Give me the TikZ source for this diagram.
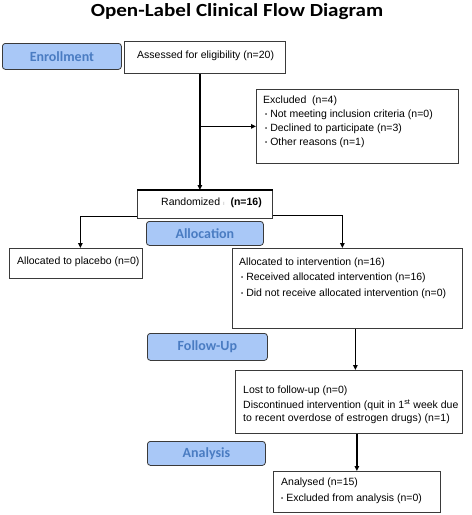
\documentclass[tikz,border=0pt]{standalone}
\usepackage{fontspec}
\setmainfont{Liberation Sans}
\newfontfamily\calfont{Carlito}
\newfontfamily\calwide[FakeStretch=1.14]{Carlito}
\usetikzlibrary{arrows.meta,calc}
\definecolor{pillfill}{HTML}{A9C8F7}
\definecolor{pilltext}{HTML}{4A7CC2}
\definecolor{boxline}{HTML}{3A3A3A}
\tikzset{
  x=1pt,y=-1pt,
  box/.style={draw=boxline,line width=0.8pt,fill=white,anchor=north west,inner sep=0pt},
  pill/.style={draw=boxline,line width=0.8pt,fill=pillfill,rounded corners=3pt,anchor=north west,inner sep=0pt,
    font=\calfont\bfseries\fontsize{14}{16}\selectfont,text=pilltext},
  txt/.style={anchor=west,inner sep=0pt,font=\fontsize{10.5}{12}\selectfont},
  arr/.style={line width=1.3pt,-{Triangle[length=5pt,width=4.5pt]}},
}
\newcommand{\bul}{{\fontsize{6}{6}\selectfont\raisebox{0.9pt}{\textbullet}}\hspace{3pt}}
\begin{document}
\begin{tikzpicture}
\useasboundingbox (0,0) rectangle (472,515);
\node[font=\calwide\bfseries\fontsize{18.5}{20}\selectfont] (title) at (237,12) {Open-Label Clinical Flow Diagram};
% enrollment
\node[pill,minimum width=119,minimum height=26] (enr) at (2,43) {Enrollment};
\node[box,minimum width=161,minimum height=32] (assess) at (124,41) {};
\node[txt] (assesst) at (137,56) {Assessed for eligibility (n=20)};
% excluded
\node[box,minimum width=202,minimum height=74] (excl) at (256,89) {};
\node[txt] (ex0) at (263,101) {Excluded\ \ (n=4)};
\node[txt] (ex1) at (265,115) {\bul Not meeting inclusion criteria (n=0)};
\node[txt] (ex2) at (265,129) {\bul Declined to participate (n=3)};
\node[txt] (ex3) at (265,143) {\bul Other reasons (n=1)};
% randomized
\node[box,minimum width=135,minimum height=28] (rand) at (137,190) {};
\draw[line width=1.4pt] (rand.north west) -- (rand.north east);
\node[txt] (randt) at (161,203) {Randomized {\color{gray!60}\fontsize{6}{6}\selectfont ı}\ \ \textbf{(n=16)}};
\node[pill,minimum width=117,minimum height=24] (alloc) at (146,221) {Allocation};
% placebo
\node[box,minimum width=133,minimum height=30] (plac) at (9,248) {};
\node[txt] (plact) at (17,262) {Allocated to placebo (n=0)};
% intervention
\node[box,minimum width=230,minimum height=80] (interv) at (232,248) {};
\node[txt] (iv0) at (239,263) {Allocated to intervention (n=16)};
\node[txt] (iv1) at (241,278) {\bul Received allocated intervention (n=16)};
\node[txt] (iv2) at (241,294) {\bul Did not receive allocated intervention (n=0)};
% follow-up
\node[pill,minimum width=120,minimum height=27] (fu) at (147,333) {Follow-Up};
\node[box,minimum width=227,minimum height=63] (lost) at (235,370) {};
\node[txt] (l0) at (243,391) {Lost to follow-up (n=0)};
\node[txt] (l1) at (243,405) {Discontinued intervention (quit in 1\textsuperscript{st} week due};
\node[txt] (l2) at (243,419) {\addfontfeature{LetterSpace=1}to recent overdose of estrogen drugs) (n=1)};
% analysis
\node[pill,minimum width=118,minimum height=24] (an) at (147,441) {Analysis};
\node[box,minimum width=167,minimum height=41] (anl) at (273,471) {};
\node[txt] (a0) at (281,483) {Analysed (n=15)};
\node[txt] (a1) at (281,499) {\bul Excluded from analysis (n=0)};
% connectors
\coordinate (c1) at ($(assess.south)+(-5,0)$);
\draw[arr] (c1) -- (c1 |- rand.north);
\draw[arr] (c1 |- excl.west) -- (excl.west);
\coordinate (rl) at ($(rand.south west)+(0,-2)$);
\coordinate (rr) at ($(rand.south east)+(0,-3)$);
\draw[arr] (rl) -| ($(plac.north)+(4.5,0)$);
\draw[arr] (rr) -| ($(interv.north)+(-5,0)$);
\coordinate (c2) at ($(lost.north)+(6.5,0)$);
\draw[arr] (c2 |- interv.south) -- (c2);
\draw[arr] (anl.north |- lost.south) -- (anl.north);
\end{tikzpicture}
\end{document}
